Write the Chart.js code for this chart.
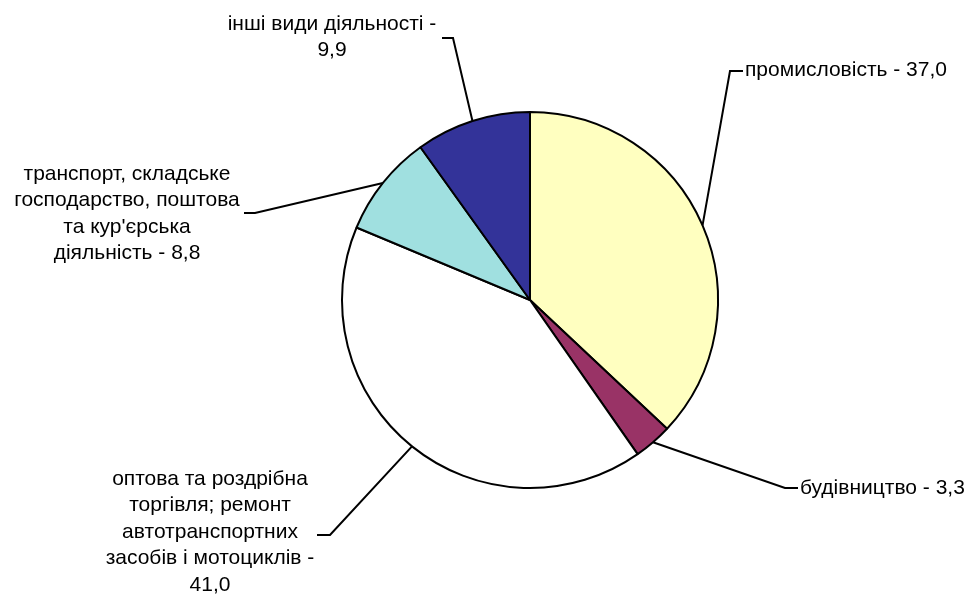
<!DOCTYPE html>
<html>
<head>
<meta charset="utf-8">
<script src="https://cdn.jsdelivr.net/npm/chart.js@4"></script>
<style>
  html, body { margin: 0; padding: 0; background: #fff; }
  #wrap { width: 971px; height: 598px; }
</style>
</head>
<body>
<div id="wrap"><canvas id="grafica" width="971" height="598"></canvas></div>
<script>
const categorias = [
    ['промисловість - 37,0'],
    ['будівництво - 3,3'],
    ['оптова та роздрібна', 'торгівля; ремонт', 'автотранспортних', 'засобів і мотоциклів -', '41,0'],
    ['транспорт, складське', 'господарство, поштова', 'та кур\'єрська', 'діяльність - 8,8'],
    ['інші види діяльності -', '9,9']
];
const valores = [37.0, 3.3, 41.0, 8.8, 9.9];
const colores = ['#FFFFC0', '#993366', '#FFFFFF', '#A0E0E0', '#333399'];

// donde va cada etiqueta: codo de la linea, fin del tramo horizontal, texto
const posEtiquetas = [
    { codo: [730, 71], fin: [743, 71], texto: [745, 70], align: 'left' },
    { codo: [785, 488], fin: [798, 488], texto: [800, 488], align: 'left' },
    { codo: [330, 535], fin: [317, 535], texto: [210, 479], align: 'center' },
    { codo: [255, 213], fin: [244, 213], texto: [127, 174], align: 'center' },
    { codo: [453, 38], fin: [442, 38], texto: [332, 24], align: 'center' }
];
const interlineado = 26.5;

const etiquetas = {
    id: 'etiquetas',
    afterDatasetsDraw(chart) {
        const ctx = chart.ctx;
        const arcos = chart.getDatasetMeta(0).data;
        ctx.save();
        ctx.font = '21px "Liberation Sans", Arial, sans-serif';
        ctx.fillStyle = '#000';
        ctx.strokeStyle = '#000';
        ctx.lineWidth = 2;
        ctx.textBaseline = 'middle';
        arcos.forEach((arco, i) => {
            const p = posEtiquetas[i];
            const medio = (arco.startAngle + arco.endAngle) / 2;
            const x0 = arco.x + Math.cos(medio) * arco.outerRadius;
            const y0 = arco.y + Math.sin(medio) * arco.outerRadius;
            ctx.beginPath();
            ctx.moveTo(x0, y0);
            ctx.lineTo(p.codo[0], p.codo[1]);
            ctx.lineTo(p.fin[0], p.fin[1]);
            ctx.stroke();
            ctx.textAlign = p.align;
            categorias[i].forEach((linea, j) => {
                ctx.fillText(linea, p.texto[0], p.texto[1] + j * interlineado);
            });
        });
        ctx.restore();
    }
};

new Chart(document.getElementById('grafica'), {
    type: 'pie',
    data: {
        labels: categorias.map(c => c.join(' ')),
        datasets: [{
            data: valores,
            backgroundColor: colores,
            borderColor: '#000',
            borderWidth: 2
        }]
    },
    options: {
        responsive: false,
        animation: false,
        layout: { padding: { top: 111, bottom: 109, left: 341, right: 252 } },
        plugins: {
            legend: { display: false },
            tooltip: { enabled: false }
        }
    },
    plugins: [etiquetas]
});
</script>
</body>
</html>
